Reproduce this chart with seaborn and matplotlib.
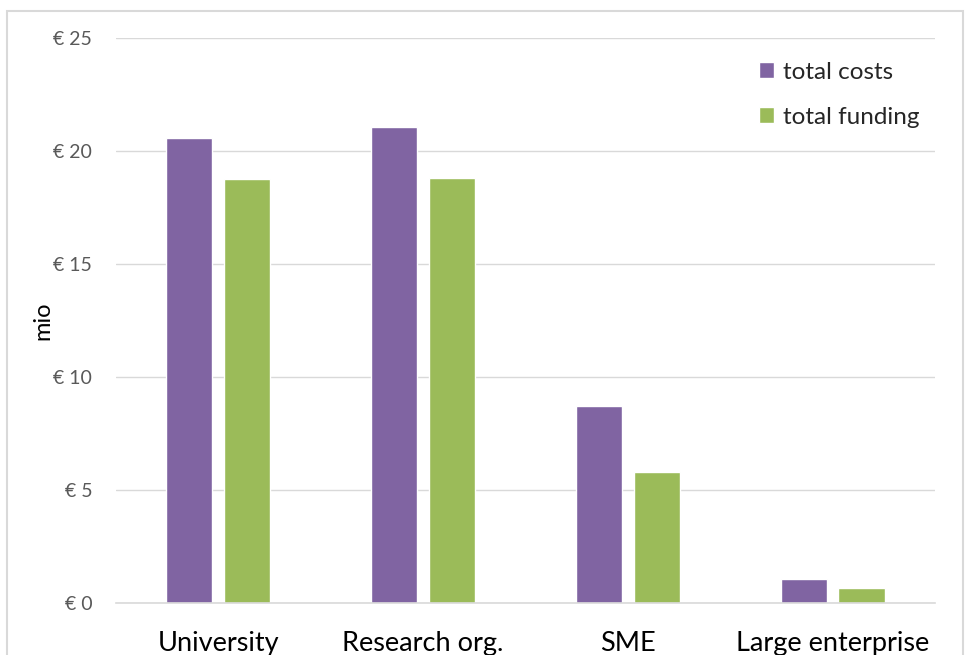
import pandas as pd
import seaborn as sns
import matplotlib.pyplot as plt
from matplotlib.patches import Rectangle

categories = ["University", "Research org.", "SME", "Large enterprise"]
total_costs = [20.58, 21.06, 8.72, 1.06]
total_funding = [18.76, 18.81, 5.80, 0.66]
series = ["total costs", "total funding"]
y_ticks = [0, 5, 10, 15, 20, 25]

data = pd.DataFrame({
    "category": categories * 2,
    "series": [series[0]] * len(categories) + [series[1]] * len(categories),
    "value": total_costs + total_funding,
})

sns.set_theme(style="white")
plt.rcParams["font.family"] = ["Lato", "DejaVu Sans"]

palette = {"total costs": "#8064A2", "total funding": "#9BBB59"}

fig = plt.figure(figsize=(9.65, 6.55), dpi=100)
ax = fig.add_axes([0.120, 0.0794, 0.849, 0.8626])

sns.barplot(data=data, x="category", y="value", hue="series", palette=palette,
            width=0.565, gap=0.2, saturation=1, ax=ax)

ax.set_ylim(0, 25)
ax.set_yticks(y_ticks)
ax.set_yticklabels([f"€ {t}" for t in y_ticks], color="#595959", fontsize=14)
ax.yaxis.grid(True, color="#D9D9D9", linewidth=1)
ax.set_axisbelow(True)
for s in ["top", "right", "left"]:
    ax.spines[s].set_visible(False)
ax.spines["bottom"].set_color("#D9D9D9")
ax.spines["bottom"].set_linewidth(1.2)
ax.tick_params(axis="y", length=0, pad=17)
ax.tick_params(axis="x", length=0, pad=20, labelsize=19.5, labelcolor="black")
ax.set_xlabel("")
ax.set_ylabel("mio", fontsize=17, color="black", labelpad=0)

leg = ax.legend(loc="upper left", bbox_to_anchor=(0.758, 0.997), frameon=False,
                fontsize=17.5, handlelength=0.65, handleheight=0.65,
                handletextpad=0.35, labelspacing=1.0)

# chart frame like the original Excel border
fig.patches.append(Rectangle((7, -40), 956, 684, transform=None, fill=False,
                             edgecolor="#D9D9D9", linewidth=1.5))

fig.savefig("out.png", dpi=100)
